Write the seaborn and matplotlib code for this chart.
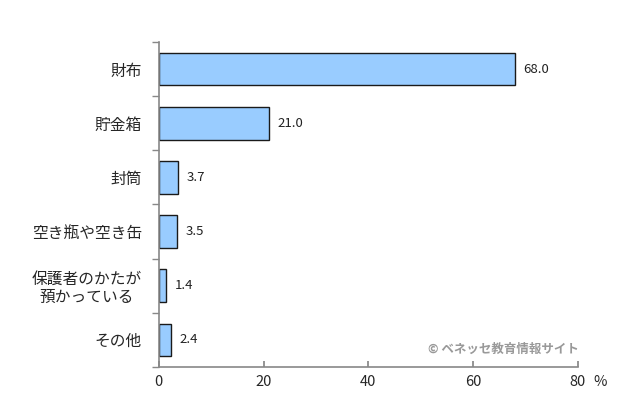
import seaborn as sns
import matplotlib.pyplot as plt
import pandas as pd

sns.set_theme(style="white")
plt.rcParams['font.family'] = ['Noto Sans CJK JP', 'DejaVu Sans']

places = ['財布', '貯金箱', '封筒', '空き瓶や空き缶', '保護者のかたが\n預かっている', 'その他']
percent = [68.0, 21.0, 3.7, 3.5, 1.4, 2.4]
x_ticks = [0, 20, 40, 60, 80]

df = pd.DataFrame({'place': places, 'percent': percent})

fig = plt.figure(figsize=(6.4, 4.09), dpi=100)
ax = fig.add_axes([0.248, 0.103, 0.655, 0.794])

sns.barplot(data=df, x='percent', y='place', orient='h', color='#99CCFF',
            edgecolor='#1a1a1a', linewidth=1.0, width=0.6, saturation=1, ax=ax)

for i, v in enumerate(percent):
    ax.text(v + 1.6, i, f'{v:.1f}', va='center', ha='left', fontsize=9.5, color='#222222')

ax.set_xlim(0, 80)
ax.set_ylim(5.5, -0.5)
ax.set_xticks(x_ticks)
ax.set_xticklabels([str(t) for t in x_ticks], fontsize=10.5)
ax.annotate('%', xy=(1, 0), xycoords='axes fraction', xytext=(11, -6),
            textcoords='offset points', fontsize=10.5, va='top', ha='left')

# category separators as outward ticks
ax.set_yticks([i for i in range(len(places))])
ax.set_yticklabels(places, fontsize=11.3, linespacing=1.1, multialignment='center')
ax.set_yticks([i - 0.5 for i in range(len(places) + 1)], minor=True)
ax.tick_params(axis='y', which='major', length=0, pad=12)
ax.tick_params(axis='y', which='minor', length=5, direction='out', color='#888888', left=True)
ax.tick_params(axis='x', length=4, direction='in', color='#888888', bottom=True, pad=6)

ax.set_xlabel('')
ax.set_ylabel('')
for s in ['top', 'right']:
    ax.spines[s].set_visible(False)
for s in ['left', 'bottom']:
    ax.spines[s].set_color('#888888')
    ax.spines[s].set_linewidth(1.2)

fig.text(0.905, 0.145, '© ベネッセ教育情報サイト', ha='right', va='center',
         fontsize=9, color='#999999', fontweight='bold')

fig.savefig('out.png', dpi=100, facecolor='white')
